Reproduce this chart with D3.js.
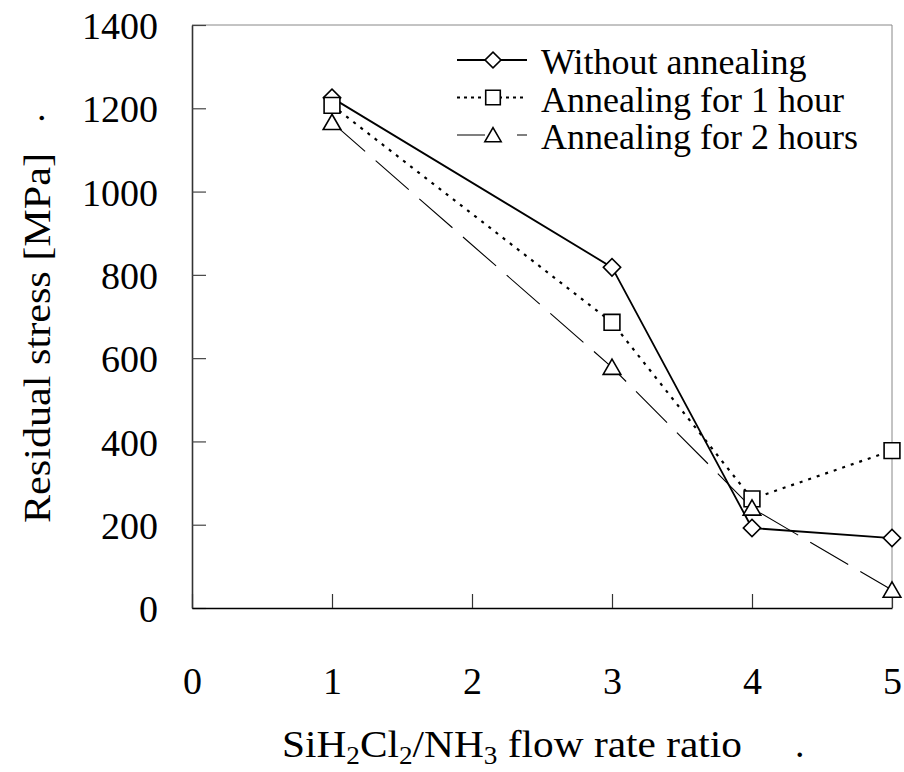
<!DOCTYPE html>
<meta charset='utf-8'>
<style>

body {
  margin: 0;
  background: #fff;
}

path.series {
  fill: none;
  stroke: #000;
}

.marker {
  fill: #fff;
  stroke: #000;
  stroke-width: 1.6px;
}

</style>
<div id='chart'><svg></svg></div>
<script src="https://cdn.jsdelivr.net/npm/d3@7"></script>
<script>

// flow rate ratios where the films were measured
const ratios = [1, 3, 4, 5];
const xTicks = [0, 1, 2, 3, 4, 5];
const yTicks = [0, 200, 400, 600, 800, 1000, 1200, 1400];

const withoutAnnealing = [1225, 818, 192, 168];
const annealing1h = [1207, 686, 262, 378];
const annealing2h = [1166, 578, 240, 43];

const seriesNames = ['Without annealing', 'Annealing for 1 hour', 'Annealing for 2 hours'];

const serif = "'Liberation Serif', 'Times New Roman', 'DejaVu Serif', serif";
const width = 904;
const height = 772;

const svg = d3.select('svg')
  .attr('width', width)
  .attr('height', height)
  .style('font-family', serif);

const x = d3.scaleLinear().domain([0, 5]).range([192, 892]);
const y = d3.scaleLinear().domain([0, 1400]).range([608, 25]);

const series = [
  { name: seriesNames[0], values: withoutAnnealing, dash: null, legendDash: null, lw: 1.8, symbol: d3.symbolSquare, size: 150, rot: 45, dy: 0 },
  { name: seriesNames[1], values: annealing1h, dash: '3,6', legendDash: '3,4', lw: 2.2, symbol: d3.symbolSquare, size: 250, rot: 0, dy: 0 },
  { name: seriesNames[2], values: annealing2h, dash: '44,14', legendDash: '28,8,4,20', lw: 1.1, symbol: d3.symbolTriangle, size: 135, rot: 0, dy: 2 }
];

// plot frame: grey top and right edges
svg.append('line')
  .attr('x1', x(0)).attr('x2', x(5))
  .attr('y1', y(1400)).attr('y2', y(1400))
  .attr('stroke', '#888').attr('stroke-width', 1);
svg.append('line')
  .attr('x1', x(5)).attr('x2', x(5))
  .attr('y1', y(1400)).attr('y2', y(0))
  .attr('stroke', '#888').attr('stroke-width', 1);

const yAxis = svg.append('g')
  .attr('transform', 'translate(' + x(0) + ',0)')
  .call(d3.axisLeft(y).tickValues(yTicks).tickFormat(d3.format('d')).tickSizeInner(-14).tickSizeOuter(0).tickPadding(34));

yAxis.attr('font-family', null).attr('font-size', null);
yAxis.select('.domain').attr('stroke', '#333').attr('stroke-width', 1.6);
yAxis.selectAll('.tick line').attr('stroke', '#444').attr('stroke-width', 1.2);
yAxis.selectAll('.tick text')
  .attr('fill', '#000')
  .style('font-family', serif)
  .style('font-size', '38px')
  .attr('dy', '0.36em');

const xAxis = svg.append('g')
  .attr('transform', 'translate(0,' + y(0) + ')')
  .call(d3.axisBottom(x).tickValues(xTicks).tickFormat(d3.format('d')).tickSizeInner(-14).tickSizeOuter(0).tickPadding(59));

xAxis.attr('font-family', null).attr('font-size', null);
xAxis.select('.domain').attr('stroke', '#000').attr('stroke-width', 1.6);
xAxis.selectAll('.tick line').attr('stroke', '#333').attr('stroke-width', 1.2);
xAxis.selectAll('.tick text')
  .attr('fill', '#000')
  .style('font-family', serif)
  .style('font-size', '38px');

const line = d3.line()
  .x((d, i) => x(ratios[i]))
  .y(d => y(d));

svg.append('g')
  .selectAll('path')
  .data(series)
  .join('path')
  .attr('class', 'series')
  .attr('d', d => line(d.values))
  .attr('stroke-width', d => d.lw)
  .attr('stroke-dasharray', d => d.dash);

// markers, triangles last so they sit on top
series.forEach(s => {
  svg.append('g')
    .selectAll('path')
    .data(s.values)
    .join('path')
    .attr('class', 'marker')
    .attr('d', d3.symbol().type(s.symbol).size(s.size))
    .attr('transform', (d, i) => 'translate(' + x(ratios[i]) + ',' + (y(d) + s.dy) + ') rotate(' + s.rot + ')');
});

// legend
const legend = svg.append('g')
  .attr('transform', 'translate(457,60)');

const legendRow = legend.selectAll('g')
  .data(series)
  .join('g')
  .attr('transform', (d, i) => 'translate(0,' + i * 37.5 + ')');

legendRow.append('line')
  .attr('x1', 0).attr('x2', 70)
  .attr('stroke', '#000')
  .attr('stroke-width', d => d.lw)
  .attr('stroke-dasharray', d => d.legendDash);

legendRow.append('path')
  .attr('class', 'marker')
  .attr('d', d => d3.symbol().type(d.symbol).size(d.size * 0.85)())
  .attr('transform', d => 'translate(36,' + d.dy + ') rotate(' + d.rot + ')');

legendRow.append('text')
  .attr('x', 84)
  .attr('y', 14)
  .style('font-family', serif)
  .style('font-size', '36px')
  .text(d => d.name);

// axis titles
const xTitle = svg.append('text')
  .attr('x', 282)
  .attr('y', 757)
  .style('font-family', serif)
  .style('font-size', '38px')
  .attr('textLength', 460)
  .attr('lengthAdjust', 'spacingAndGlyphs');

xTitle.append('tspan').text('SiH');
xTitle.append('tspan').attr('dy', 7).style('font-size', '25px').text('2');
xTitle.append('tspan').attr('dy', -7).text('Cl');
xTitle.append('tspan').attr('dy', 7).style('font-size', '25px').text('2');
xTitle.append('tspan').attr('dy', -7).text('/NH');
xTitle.append('tspan').attr('dy', 7).style('font-size', '25px').text('3');
xTitle.append('tspan').attr('dy', -7).text(' flow rate ratio');

svg.append('text')
  .attr('x', 795)
  .attr('y', 757)
  .style('font-family', serif)
  .style('font-size', '38px')
  .text('.');

svg.append('text')
  .attr('transform', 'translate(50,338) rotate(-90)')
  .attr('text-anchor', 'middle')
  .style('font-family', serif)
  .style('font-size', '38px')
  .attr('textLength', 370)
  .attr('lengthAdjust', 'spacingAndGlyphs')
  .text('Residual stress [MPa]');

svg.append('text')
  .attr('transform', 'translate(44,118) rotate(-90)')
  .attr('text-anchor', 'middle')
  .style('font-family', serif)
  .style('font-size', '38px')
  .text('.');

</script>
